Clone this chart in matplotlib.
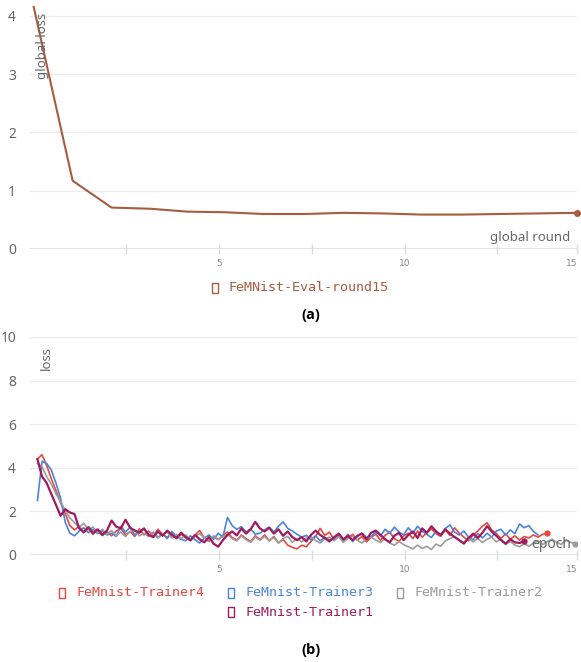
import matplotlib
matplotlib.use('Agg')
import matplotlib.pyplot as plt
from matplotlib.patches import Rectangle
import numpy as np

# top chart: global loss per round
round_x = [0, 1.05, 2.1, 3.15, 4.15, 5.15, 6.2, 7.3, 8.35, 9.4, 10.45, 11.55, 12.55, 13.6, 14.65]
global_loss = [4.15, 1.17, 0.71, 0.69, 0.64, 0.63, 0.60, 0.60, 0.62, 0.61, 0.59, 0.59, 0.60, 0.61, 0.62]

# bottom chart: trainer loss, logged every 1/8 epoch starting at 0.1
epoch_start = 0.1
epoch_step = 0.125

trainer4 = [4.40, 4.60, 4.10, 3.50, 2.95, 2.40, 1.90, 1.35,
            1.15, 1.32, 1.02, 1.22, 0.95, 1.15, 0.90, 1.08,
            0.88, 1.10, 1.22, 0.92, 1.08, 0.85, 1.20, 0.92,
            1.10, 0.85, 1.18, 0.95, 0.80, 1.02, 0.75, 0.95,
            0.80, 0.65, 0.92, 1.12, 0.78, 0.62, 0.85, 0.70,
            0.90, 1.05, 0.80, 0.68, 0.92, 0.75, 0.62, 0.88,
            0.70, 0.92, 0.65, 0.85, 0.55, 0.72, 0.45, 0.35,
            0.28, 0.45, 0.38, 0.62, 0.85, 1.22, 0.90, 1.05,
            0.70, 0.85, 0.62, 0.78, 0.95, 0.68, 0.85, 0.60,
            0.82, 0.95, 0.68, 0.90, 1.05, 0.75, 0.62, 0.88,
            1.00, 0.75, 1.10, 0.82, 1.02, 1.20, 0.98, 0.85,
            1.15, 0.90, 1.25, 1.00, 0.82, 0.65, 0.92, 1.10,
            1.32, 1.48, 1.15, 0.98, 0.75, 0.98, 0.72, 0.88,
            0.68, 0.85, 0.78, 0.92, 0.82, 0.95, 1.00]

trainer3 = [2.50, 4.30, 4.20, 3.90, 3.30, 2.60, 1.50, 1.00,
            0.88, 1.10, 1.25, 1.02, 1.18, 0.98, 1.12, 0.92,
            1.00, 0.85, 1.32, 1.05, 1.28, 0.90, 1.10, 1.20,
            0.88, 1.05, 0.80, 0.98, 0.75, 1.08, 0.85, 0.72,
            0.65, 0.88, 0.70, 0.55, 0.78, 0.92, 0.72, 1.00,
            0.82, 1.72, 1.35, 1.18, 1.30, 1.05, 1.20, 0.95,
            1.00, 1.15, 1.28, 1.05, 1.32, 1.52, 1.22, 1.10,
            0.95, 0.82, 0.90, 0.70, 0.88, 0.65, 0.82, 0.70,
            0.75, 0.90, 0.68, 0.95, 0.62, 0.85, 1.00, 0.80,
            0.85, 1.05, 0.88, 1.18, 1.00, 1.28, 1.05, 0.92,
            1.25, 1.00, 1.32, 1.08, 0.95, 0.80, 1.10, 0.88,
            1.22, 1.38, 1.05, 0.92, 1.10, 0.82, 0.70, 0.98,
            0.78, 1.00, 0.82, 1.10, 1.18, 0.92, 1.15, 0.98,
            1.42, 1.25, 1.35, 1.08, 0.92]

trainer2 = [4.20, 4.05, 3.60, 3.25, 2.80, 2.45, 2.05, 1.70,
            1.48, 1.28, 1.45, 1.15, 1.28, 1.02, 1.18, 0.95,
            1.12, 0.88, 1.05, 0.85, 1.08, 1.15, 0.88, 1.00,
            0.84, 1.02, 0.78, 0.96, 1.05, 0.78, 0.95, 0.75,
            0.92, 0.70, 0.86, 0.98, 0.78, 0.66, 0.88, 0.72,
            0.85, 0.95, 0.75, 0.65, 0.88, 0.70, 0.58, 0.82,
            0.68, 0.85, 0.65, 0.80, 0.55, 0.75, 0.86, 0.58,
            0.75, 0.60, 0.78, 0.85, 0.66, 0.55, 0.75, 0.82,
            0.65, 0.85, 0.58, 0.78, 0.86, 0.68, 0.55, 0.75,
            0.82, 0.68, 0.58, 0.75, 0.55, 0.45, 0.62, 0.48,
            0.38, 0.28, 0.45, 0.30, 0.40, 0.25, 0.50, 0.40,
            0.65, 0.75, 0.85, 0.68, 0.58, 0.78, 0.60, 0.75,
            0.58, 0.72, 0.82, 0.60, 0.75, 0.48, 0.62, 0.45,
            0.38, 0.52, 0.40, 0.55, 0.65, 0.48, 0.62, 0.72,
            0.58, 0.48, 0.70, 0.58, 0.52]

trainer1 = [4.40, 3.60, 3.30, 2.80, 2.30, 1.80, 2.10, 1.95,
            1.88, 1.22, 1.05, 1.28, 1.00, 1.18, 0.92, 1.12,
            1.58, 1.30, 1.22, 1.62, 1.25, 1.12, 1.02, 1.22,
            0.92, 0.82, 1.08, 0.88, 1.12, 0.92, 0.78, 1.02,
            0.82, 0.68, 0.92, 0.72, 0.58, 0.82, 0.52, 0.38,
            0.68, 0.92, 1.08, 0.90, 1.22, 0.98, 1.18, 1.52,
            1.22, 1.08, 1.25, 0.98, 1.18, 0.88, 1.08, 0.82,
            0.68, 0.82, 0.62, 0.92, 1.12, 0.92, 0.78, 0.62,
            0.82, 0.98, 0.72, 0.88, 0.68, 0.88, 0.98, 0.72,
            1.02, 1.12, 0.92, 0.72, 0.58, 0.88, 1.02, 0.68,
            0.92, 1.08, 0.78, 1.22, 1.02, 1.32, 1.08, 0.92,
            1.18, 0.98, 0.82, 0.68, 0.52, 0.78, 0.98, 0.78,
            1.02, 1.32, 1.08, 0.88, 0.68, 0.52, 0.72, 0.58,
            0.55, 0.64]

series = [('FeMnist-Trainer4', trainer4, '#e8483f', 1.2),
          ('FeMnist-Trainer3', trainer3, '#4a84e0', 1.2),
          ('FeMnist-Trainer2', trainer2, '#9c9c9c', 1.2),
          ('FeMnist-Trainer1', trainer1, '#a01a5c', 1.6)]

GRID = '#ececec'
TICK = '#666666'
BROWN = '#a85c40'
W, H = 581, 662


def style_axes(ax, ymax, yticks, xmax):
    ax.set_xlim(-0.1, xmax)
    ax.set_ylim(0, ymax)
    for s in ax.spines.values():
        s.set_visible(False)
    ax.set_yticks(yticks)
    ax.set_yticklabels([str(t) for t in yticks], fontsize=10, color=TICK,
                       family='Noto Sans')
    ax.tick_params(axis='y', length=0, pad=10)
    for t in yticks[1:]:
        ax.axhline(t, color=GRID, lw=1, zorder=0)
    ax.axhline(0, color='#dcdcdc', lw=1.8, zorder=1)
    ax.set_xticks([2.5, 5, 7.5, 10, 12.5, xmax])
    ax.set_xticklabels(['', '5', '', '10', '', '15'], fontsize=6.5, color='#888888')
    ax.get_xticklabels()[-1].set_horizontalalignment('right')
    ax.tick_params(axis='x', direction='inout', length=7, width=1, color='#dcdcdc', pad=4)


def legend_item(fig, px, py, name, color):
    ''' box + monospace label, pixel coords from the top-left '''
    fig.add_artist(Rectangle((px / W, 1 - (py + 5) / H), 6 / W, 10 / H, fill=False,
                             edgecolor=color, lw=1, transform=fig.transFigure))
    fig.text((px + 17) / W, 1 - py / H, name, ha='left', va='center',
             fontsize=9.6, color=color, family='DejaVu Sans Mono')


def main():
    fig = plt.figure(figsize=(W / 100, H / 100), dpi=100)

    ''' Global loss '''
    ax1 = fig.add_axes([30 / W, 1 - 249 / H, 547 / W, 245 / H])
    style_axes(ax1, 4.2, [0, 1, 2, 3, 4], 14.65)
    ax1.plot(round_x, global_loss, color=BROWN, lw=1.5, clip_on=False, zorder=3)
    ax1.plot(round_x[-1], global_loss[-1], 'o', color=BROWN, ms=4, clip_on=False, zorder=4)
    ax1.text(0.022, 0.965, 'global loss', rotation=90, ha='center', va='top',
             transform=ax1.transAxes, fontsize=9.5, color=TICK, family='Noto Sans')
    ax1.text(0.988, 0.02, 'global round', ha='right', va='bottom',
             transform=ax1.transAxes, fontsize=9.5, color=TICK, family='Noto Sans')
    legend_item(fig, 212, 288, 'FeMNist-Eval-round15', BROWN)
    fig.text(311 / W, 1 - 315 / H, '(a)', ha='center', va='center',
             fontsize=10.5, fontweight='bold', family=['Open Sans', 'DejaVu Sans'])

    ''' Trainer loss '''
    ax2 = fig.add_axes([30 / W, 1 - 555 / H, 547 / W, 218 / H])
    style_axes(ax2, 10, [0, 2, 4, 6, 8, 10], 14.65)
    for name, vals, color, lw in series:
        x = epoch_start + epoch_step * np.arange(len(vals))
        ax2.plot(x, vals, color=color, lw=lw, zorder=3)
        if name != 'FeMnist-Trainer3':
            ax2.plot(x[-1], vals[-1], 'o', color=color, ms=3.5, zorder=4)
    ax2.text(0.03, 0.96, 'loss', rotation=90, ha='center', va='top',
             transform=ax2.transAxes, fontsize=9.5, color=TICK, family='Noto Sans')
    ax2.text(0.99, 0.015, 'epoch', ha='right', va='bottom',
             transform=ax2.transAxes, fontsize=10, color=TICK, family='Noto Sans', zorder=5)

    legend_pos = [(59, 593), (228, 593), (397, 593), (228, 612)]
    for (name, vals, color, lw), (px, py) in zip(series, legend_pos):
        legend_item(fig, px, py, name, color)
    fig.text(311 / W, 1 - 650 / H, '(b)', ha='center', va='center',
             fontsize=10.5, fontweight='bold', family=['Open Sans', 'DejaVu Sans'])

    fig.savefig('out.png', dpi=100)


if __name__ == "__main__":
    main()
